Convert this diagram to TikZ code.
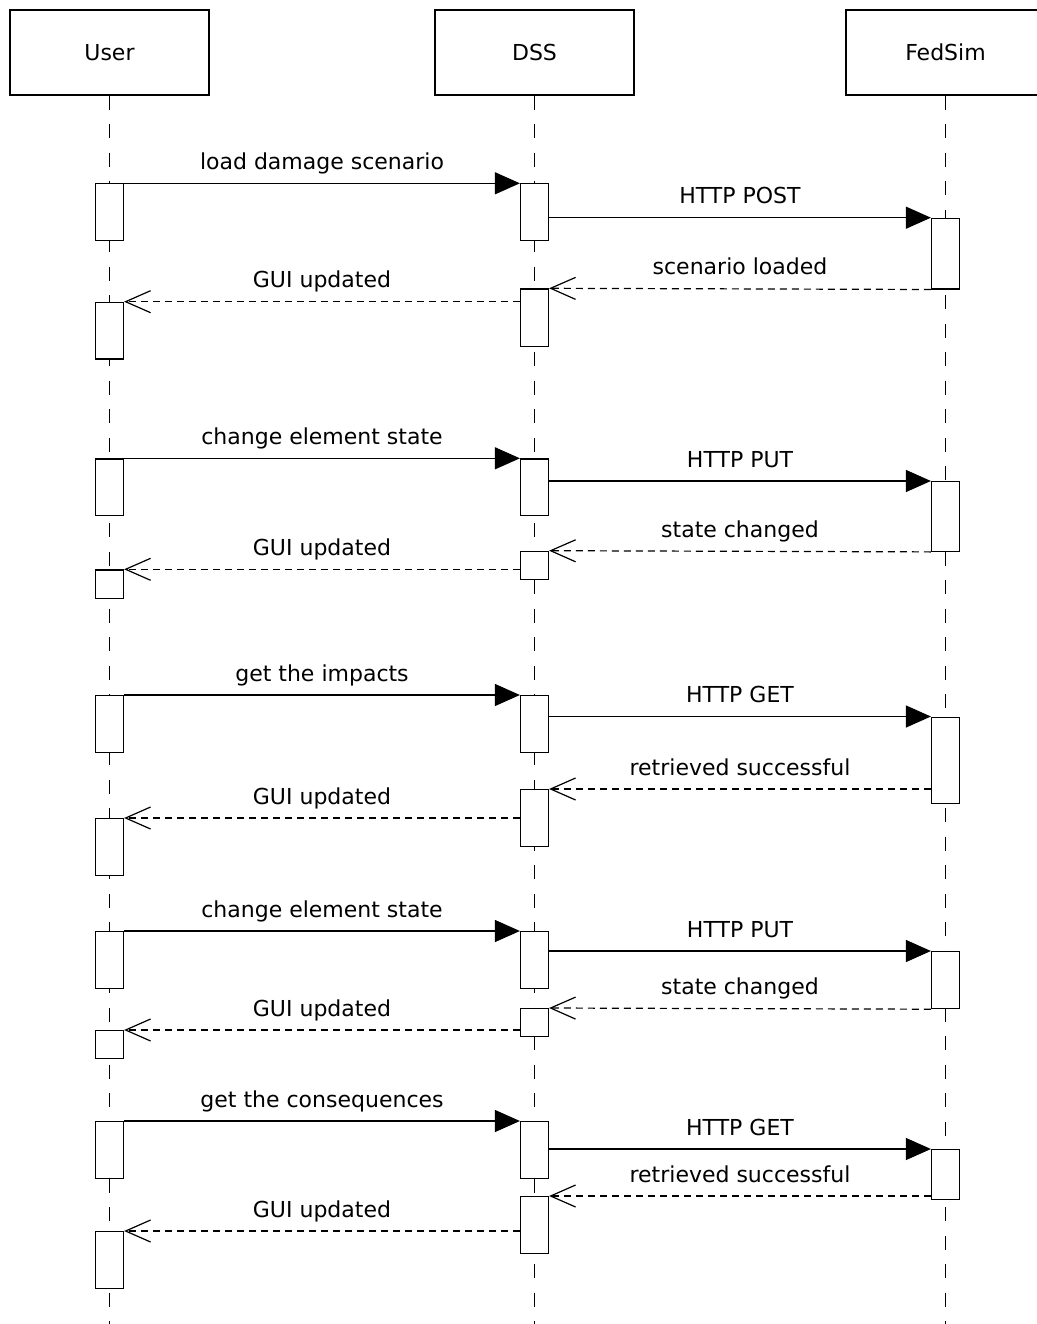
\documentclass[tikz,border=0pt]{standalone}
\usepackage{fontspec}
\setmainfont{DejaVu Sans}
\usetikzlibrary{arrows.meta}

\tikzset{
  every node/.style={font=\fontsize{22}{26}\selectfont},
  head/.style={draw, line width=1.2pt, minimum width=199pt, minimum height=85pt, inner sep=0pt},
  life/.style={line width=1.2pt, dash pattern=on 14pt off 14.5pt},
  act/.style={draw, fill=white, line width=1.2pt, minimum width=28pt, inner sep=0pt, anchor=north},
  call/.style={line width=1.2pt, -{Triangle[length=25pt,width=22pt]}},
  reply/.style={line width=1.2pt, dash pattern=on 7pt off 5pt,
    -{Straight Barb[length=25pt,width=22pt,line width=1.2pt]}},
  lbl/.style={midway, anchor=base, yshift=14pt, inner sep=0pt}
}

% activation box: name, lifeline x, top y, height
\newcommand\actbox[4]{\node[act, minimum height=#4pt] (#1) at (#2,#3) {};}

\begin{document}
\begin{tikzpicture}[x=1pt,y=-1pt]
\useasboundingbox (0,0) rectangle (1036,1324);

% participants
\node[head] (user) at (109.5,52.5) {User};
\node[head] (dss) at (534.5,52.5) {DSS};
\node[head] (fed) at (945.5,52.5) {FedSim};

% lifelines
\coordinate (userEnd) at (109.5,1330);
\coordinate (dssEnd) at (534.5,1330);
\coordinate (fedEnd) at (945.5,1330);
\draw[life] (user.south) -- (userEnd);
\draw[life] (dss.south) -- (dssEnd);
\draw[life] (fed.south) -- (fedEnd);

% load damage scenario
\actbox{u1}{109.5}{183.3}{57}
\actbox{d1}{534.5}{183.3}{57}
\actbox{f1}{945.5}{217.7}{70.6}
\actbox{d2}{534.5}{288.3}{57.4}
\actbox{u2}{109.5}{301.7}{56.6}
\draw[call] (u1.north east) -- node[lbl] {load damage scenario} (d1.north west);
\draw[call] (f1.north west -| d1.east) -- node[lbl] {HTTP POST} (f1.north west);
\draw[reply] (f1.south west) -- node[lbl] {scenario loaded} (d2.north east);
\draw[reply] (u2.north east -| d2.west) -- node[lbl] {GUI updated} (u2.north east);

% change element state
\actbox{u3}{109.5}{458.3}{56.7}
\actbox{d3}{534.5}{458.3}{56.7}
\actbox{f2}{945.5}{481}{69.7}
\actbox{d4}{534.5}{550.7}{28.3}
\actbox{u4}{109.5}{569.3}{28.4}
\draw[call] (u3.north east) -- node[lbl] {change element state} (d3.north west);
\draw[call] (f2.north west -| d3.east) -- node[lbl] {HTTP PUT} (f2.north west);
\draw[reply] (f2.south west) -- node[lbl] {state changed} (d4.north east);
\draw[reply] (u4.north east -| d4.west) -- node[lbl] {GUI updated} (u4.north east);

% get the impacts
\actbox{u5}{109.5}{695}{57}
\actbox{d5}{534.5}{695}{57}
\actbox{f3}{945.5}{716.5}{86.5}
\actbox{d6}{534.5}{789}{57}
\actbox{u6}{109.5}{818}{57}
\draw[call] (u5.north east) -- node[lbl] {get the impacts} (d5.north west);
\draw[call] (f3.north west -| d5.east) -- node[lbl] {HTTP GET} (f3.north west);
\draw[reply] (d6.north east -| f3.west) -- node[lbl] {retrieved successful} (d6.north east);
\draw[reply] (u6.north east -| d6.west) -- node[lbl] {GUI updated} (u6.north east);

% change element state (again)
\actbox{u7}{109.5}{931}{57}
\actbox{d7}{534.5}{931}{57}
\actbox{f4}{945.5}{951}{57}
\actbox{d8}{534.5}{1008}{28}
\actbox{u8}{109.5}{1030}{28}
\draw[call] (u7.north east) -- node[lbl] {change element state} (d7.north west);
\draw[call] (f4.north west -| d7.east) -- node[lbl] {HTTP PUT} (f4.north west);
\draw[reply] (f4.south west) -- node[lbl] {state changed} (d8.north east);
\draw[reply] (u8.north east -| d8.west) -- node[lbl] {GUI updated} (u8.north east);

% get the consequences
\actbox{u9}{109.5}{1121}{57}
\actbox{d9}{534.5}{1121}{57}
\actbox{f5}{945.5}{1149}{50}
\actbox{d10}{534.5}{1196}{57}
\actbox{u10}{109.5}{1231}{57}
\draw[call] (u9.north east) -- node[lbl] {get the consequences} (d9.north west);
\draw[call] (f5.north west -| d9.east) -- node[lbl] {HTTP GET} (f5.north west);
\draw[reply] (d10.north east -| f5.west) -- node[lbl] {retrieved successful} (d10.north east);
\draw[reply] (u10.north east -| d10.west) -- node[lbl] {GUI updated} (u10.north east);
\end{tikzpicture}
\end{document}
